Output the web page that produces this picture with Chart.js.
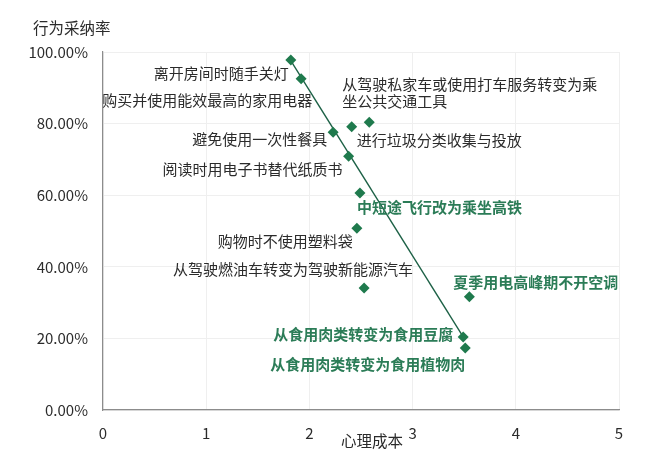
<!DOCTYPE html>
<html>
<head>
<meta charset="utf-8">
<script src="https://cdn.jsdelivr.net/npm/chart.js@4.4.0/dist/chart.umd.min.js"></script>
<style>
html,body{margin:0;padding:0;background:#fff;}
#wrap{width:660px;height:454px;position:relative;}
</style>
</head>
<body>
<div id="wrap"><canvas id="c"></canvas></div>
<script>
// ---- data ----
const behaviors = [
  '离开房间时随手关灯',
  '购买并使用能效最高的家用电器',
  '避免使用一次性餐具',
  '阅读时用电子书替代纸质书',
  ['从驾驶私家车或使用打车服务转变为乘', '坐公共交通工具'],
  '进行垃圾分类收集与投放',
  '中短途飞行改为乘坐高铁',
  '购物时不使用塑料袋',
  '从驾驶燃油车转变为驾驶新能源汽车',
  '夏季用电高峰期不开空调',
  '从食用肉类转变为食用豆腐',
  '从食用肉类转变为食用植物肉'
];
const psychCost = [1.82, 1.92, 2.23, 2.38, 2.58, 2.41, 2.49, 2.46, 2.53, 3.55, 3.49, 3.51];
const adoptionRate = [97.8, 92.5, 77.6, 70.9, 80.4, 79.1, 60.6, 50.8, 34.1, 31.6, 20.4, 17.3];
const highlighted = [false, false, false, false, false, false, true, false, false, true, true, true];
const trendX = [1.80, 3.49];
const trendY = [98.5, 20.4];
const xTicks = [0, 1, 2, 3, 4, 5];
const yTicks = [0, 20, 40, 60, 80, 100];
const xTitle = '心理成本';
const yTitle = '行为采纳率';

// ---- label placement (style, not data) ----
const labelStyle = [
  {dx: -2, dy: 13, align: 'right'},
  {dx: 11, dy: 21, align: 'right'},
  {dx: -6, dy: 7, align: 'right'},
  {dx: -6, dy: 13, align: 'right'},
  {dx: -27, dy: -38, align: 'left'},
  {dx: 5, dy: 13, align: 'left'},
  {dx: -3, dy: 14, align: 'left'},
  {dx: -4, dy: 13, align: 'right'},
  {dx: 49, dy: -19, align: 'right'},
  {dx: -16, dy: -15, align: 'left'},
  {dx: -10, dy: -3, align: 'right'},
  {dx: 0, dy: 16, align: 'right'}
];

const FONT = '"Noto Sans CJK SC", "Noto Sans", sans-serif';
const GREEN = '#1f7a4d';
const LINE_GREEN = '#1d6146';
const LABEL_GREEN = '#2b7c57';
const TEXT = '#2b2b2b';

const points = psychCost.map((x, i) => ({x: x, y: adoptionRate[i]}));
const trend = trendX.map((x, i) => ({x: x, y: trendY[i]}));

const labelPlugin = {
  id: 'labels',
  afterDatasetsDraw(chart) {
    const ctx = chart.ctx;
    const meta = chart.getDatasetMeta(1);
    ctx.save();
    ctx.textBaseline = 'middle';
    meta.data.forEach((el, i) => {
      const st = labelStyle[i];
      ctx.font = (highlighted[i] ? 'bold ' : '') + '15px ' + FONT;
      ctx.fillStyle = highlighted[i] ? LABEL_GREEN : TEXT;
      ctx.textAlign = st.align;
      const lines = Array.isArray(behaviors[i]) ? behaviors[i] : [behaviors[i]];
      lines.forEach((ln, k) => {
        ctx.fillText(ln, el.x + st.dx, el.y + st.dy + k * 17);
      });
    });
    // axis titles
    ctx.font = '15.5px ' + FONT;
    ctx.fillStyle = TEXT;
    ctx.textAlign = 'left';
    ctx.fillText(yTitle, 33, 28);
    ctx.textAlign = 'center';
    const xs = chart.scales.x;
    ctx.fillText(xTitle, (xs.left + xs.right) / 2 + 11, 441);
    ctx.restore();
  }
};

new Chart(document.getElementById('c'), {
  type: 'scatter',
  data: {
    datasets: [
      {
        type: 'line',
        data: trend,
        borderColor: LINE_GREEN,
        borderWidth: 1.4,
        pointRadius: 0,
        fill: false,
        order: 2
      },
      {
        data: points,
        pointStyle: 'rectRot',
        pointRadius: 5.5,
        pointBackgroundColor: GREEN,
        pointBorderColor: GREEN,
        pointBorderWidth: 0,
        order: 1
      }
    ]
  },
  options: {
    responsive: true,
    maintainAspectRatio: false,
    animation: false,
    layout: {padding: {top: 52, right: 41, left: 0, bottom: 0}},
    plugins: {legend: {display: false}, tooltip: {enabled: false}, title: {display: false}},
    scales: {
      x: {
        type: 'linear',
        min: 0, max: 5,
        afterBuildTicks: s => { s.ticks = xTicks.map(v => ({value: v})); },
        afterFit: s => { s.height = 44; },
        grid: {color: '#efefef', drawTicks: false},
        border: {color: '#8c8c8c', width: 1.2},
        ticks: {color: TEXT, font: {size: 15, family: FONT}, padding: 14, callback: v => String(v)}
      },
      y: {
        type: 'linear',
        min: 0, max: 100,
        afterBuildTicks: s => { s.ticks = yTicks.map(v => ({value: v})); },
        afterFit: s => { s.width = 103; },
        grid: {color: '#efefef', drawTicks: false},
        border: {color: '#8c8c8c', width: 1.2},
        ticks: {color: TEXT, font: {size: 15, family: FONT}, padding: 15, callback: v => v.toFixed(2) + '%'}
      }
    }
  },
  plugins: [labelPlugin]
});
</script>
</body>
</html>
